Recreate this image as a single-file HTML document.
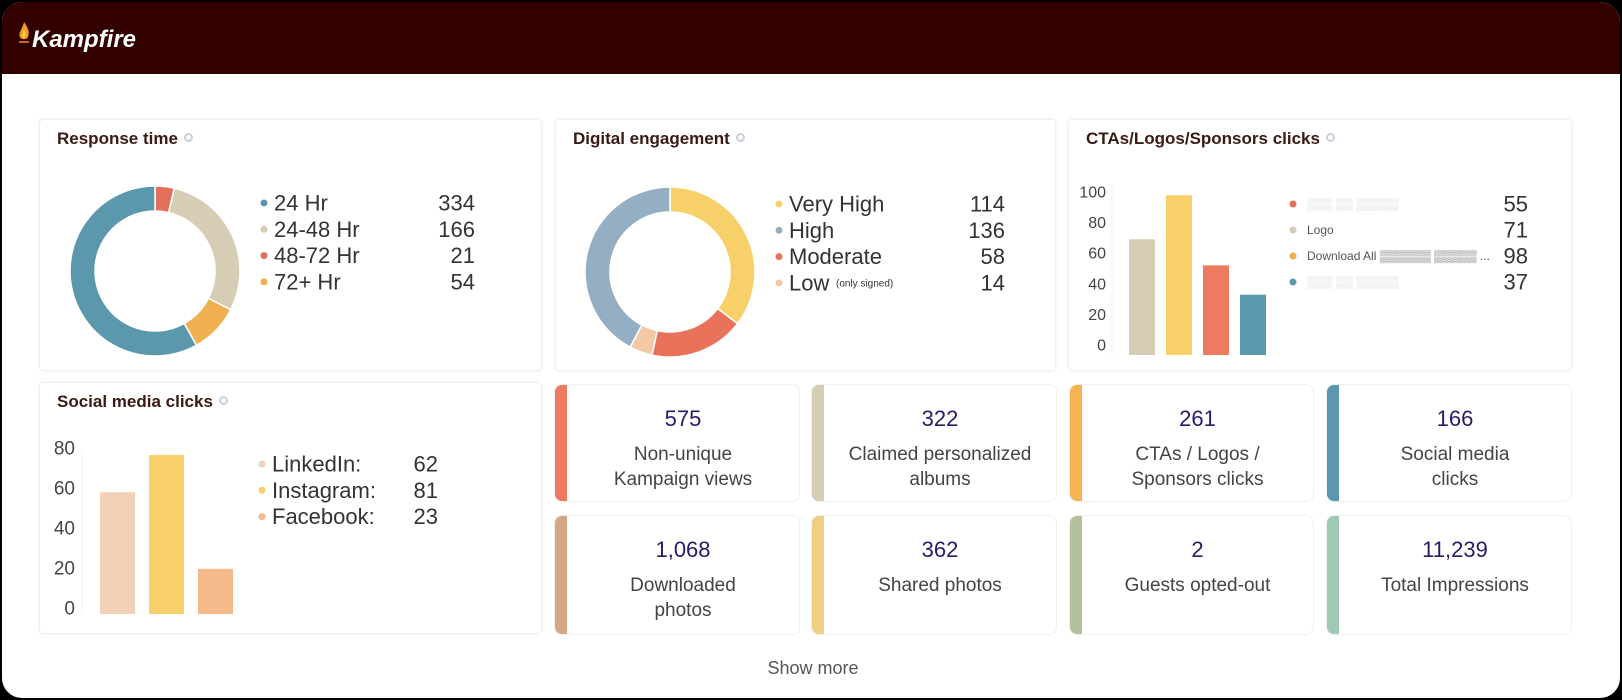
<!DOCTYPE html>
<html><head><meta charset="utf-8">
<style>
*{box-sizing:border-box;margin:0;padding:0}
html,body{width:1622px;height:700px;background:#000;overflow:hidden;font-family:"Liberation Sans",sans-serif}
#frame{position:absolute;left:0;top:0;width:1622px;height:700px;background:#fff;border:2px solid #000;border-radius:22px;overflow:hidden}
#header{position:absolute;left:0;top:0;width:1622px;height:72px;background:#330000}
#logo{position:absolute;left:30px;top:24px;color:#fff;font:italic bold 24px "Liberation Sans",sans-serif}
.card{position:absolute;background:#fff;border:1px solid #efefef;border-radius:4px;box-shadow:0 0 4px rgba(0,0,0,0.05)}
.title{position:absolute;left:17px;top:9px;font:bold 17px "Liberation Sans",sans-serif;color:#3a1a12}
.info{display:inline-block;width:9px;height:9px;border-radius:50%;border:2px solid #c7d0dc;margin-left:6px;vertical-align:2px}
.tile{position:absolute;background:#fff;border:1px solid #f0f0f0;border-radius:8px;overflow:hidden;text-align:center}
.tile .bar{position:absolute;left:0;top:0;bottom:0;width:12px}
.tile .num{position:absolute;left:12px;right:0;top:21px;font-size:22px;color:#2b1a66}
.tile .lbl{position:absolute;left:12px;right:0;top:57px;font-size:19px;line-height:25px;color:#444}
svg text{font-family:"Liberation Sans",sans-serif}
#more{position:absolute;left:0;width:1622px;top:656px;text-align:center;font-size:18px;color:#555}
</style></head><body>
<div id="frame">
<div id="header">
  <svg style="position:absolute;left:14px;top:18px" width="16" height="26"><path d="M8 2 C12 8 14 12 12 17 C11 20 5 20 4 17 C2 13 6 10 8 2Z" fill="#f39c1f"/><path d="M8 9 C10 12 10 15 9 17 C8 18 7 18 6.5 17 C6 15 7 12 8 9Z" fill="#ffd34d"/><rect x="3" y="21" width="10" height="2" fill="#c8692a"/></svg>
  <div id="logo">Kampfire</div>
</div>

<div class="card" style="left:37px;top:117px;width:503px;height:252px">
  <div class="title">Response time<span class="info"></span></div>
</div>
<div class="card" style="left:553px;top:117px;width:501px;height:252px">
  <div class="title">Digital engagement<span class="info"></span></div>
</div>
<div class="card" style="left:1066px;top:117px;width:504px;height:252px">
  <div class="title">CTAs/Logos/Sponsors clicks<span class="info"></span></div>
</div>
<div class="card" style="left:37px;top:380px;width:503px;height:252px">
  <div class="title">Social media clicks<span class="info"></span></div>
</div>

<div class="tile" style="left:552px;top:382px;width:246px;height:118px"><div class="bar" style="background:#ee7a5f"></div><div class="num">575</div><div class="lbl">Non-unique<br>Kampaign views</div></div>
<div class="tile" style="left:809px;top:382px;width:246px;height:118px"><div class="bar" style="background:#d6cdb4"></div><div class="num">322</div><div class="lbl">Claimed personalized<br>albums</div></div>
<div class="tile" style="left:1067px;top:382px;width:245px;height:118px"><div class="bar" style="background:#f3b451"></div><div class="num">261</div><div class="lbl">CTAs / Logos /<br>Sponsors clicks</div></div>
<div class="tile" style="left:1324px;top:382px;width:246px;height:118px"><div class="bar" style="background:#5b97ad"></div><div class="num">166</div><div class="lbl">Social media<br>clicks</div></div>
<div class="tile" style="left:552px;top:513px;width:246px;height:120px"><div class="bar" style="background:#d3a782"></div><div class="num">1,068</div><div class="lbl">Downloaded<br>photos</div></div>
<div class="tile" style="left:809px;top:513px;width:246px;height:120px"><div class="bar" style="background:#f0cf85"></div><div class="num">362</div><div class="lbl">Shared photos</div></div>
<div class="tile" style="left:1067px;top:513px;width:245px;height:120px"><div class="bar" style="background:#b5c19a"></div><div class="num">2</div><div class="lbl">Guests opted-out</div></div>
<div class="tile" style="left:1324px;top:513px;width:246px;height:120px"><div class="bar" style="background:#9ec9b3"></div><div class="num">11,239</div><div class="lbl">Total Impressions</div></div>

<div id="more">Show more</div>

<svg id="charts" width="1622" height="700" style="position:absolute;left:0;top:0;pointer-events:none"></svg>
</div>
<script>
const rtLabels=["24 Hr","24-48 Hr","48-72 Hr","72+ Hr"];
const rtValues=[334,166,21,54];
const deLabels=["Very High","High","Moderate","Low"];
const deValues=[114,136,58,14];
const ctaLegendValues=[55,71,98,37];
const ctaBarValues=[71,98,55,37];
const ctaTicks=[0,20,40,60,80,100];
const smLabels=["LinkedIn:","Instagram:","Facebook:"];
const smValues=[62,81,23];
const smTicks=[0,20,40,60,80];

const NS="http://www.w3.org/2000/svg";
const svg=document.getElementById('charts');
function mk(tag,attrs,parent){const e=document.createElementNS(NS,tag);for(const k in attrs)e.setAttribute(k,attrs[k]);(parent||svg).appendChild(e);return e;}
function txt(x,y,s,size,fill,anchor){const t=mk('text',{x:x,y:y,'font-size':size,fill:fill,'text-anchor':anchor||'start','dominant-baseline':'central'});t.textContent=s;return t;}
function arcPath(cx,cy,r0,r1,a0,a1){
  const p=(r,a)=>[cx+r*Math.sin(a),cy-r*Math.cos(a)];
  const large=(a1-a0)>Math.PI?1:0;
  const [x1,y1]=p(r1,a0),[x2,y2]=p(r1,a1),[x3,y3]=p(r0,a1),[x4,y4]=p(r0,a0);
  return `M${x1} ${y1}A${r1} ${r1} 0 ${large} 1 ${x2} ${y2}L${x3} ${y3}A${r0} ${r0} 0 ${large} 0 ${x4} ${y4}Z`;
}
function donut(cx,cy,values,order,colors,name){
  const total=values.reduce((a,b)=>a+b,0);let a=0;
  order.forEach(i=>{const da=values[i]/total*2*Math.PI;
    const p=mk('path',{d:arcPath(cx,cy,60,85,a,a+da),fill:colors[i],stroke:'#fff','stroke-width':1.5});
    
    
    a+=da;});
}
function legend(x,vx,y0,labels,values,colors,name,size){
  labels.forEach((l,i)=>{const y=y0+i*26.3;
    const c=mk('circle',{cx:x,cy:y,r:3.5,fill:colors[i]});
    
    
    const t=txt(x+10,y,l,size,'#333');
    
    
    const v=txt(vx,y,String(values[i]),size,'#333','end');
    
    
  });
}
// Response time
const rtColors=["#5b97ad","#d6cdb4","#e0705a","#f0b04f"];
donut(153,269,rtValues,[2,1,3,0],rtColors,'response-time');
legend(262,473,201,rtLabels,rtValues,rtColors,'response-time',22);
// Digital engagement
const deColors=["#f7d06a","#94afc4","#e9735a","#f3c9a5"];
donut(668,270,deValues,[0,2,3,1],deColors,'digital-engagement');
legend(777,1003,202,deLabels,deValues,deColors,'digital-engagement',22);
{const t=txt(834,282,'(only signed)',10,'#333');}
// CTA bar chart
const ctaBarColors=["#d6cdb4","#f7d06a","#ee7a5f","#5b97ad"];
const ctaY=v=>353-v*1.63;
ctaTicks.forEach(v=>{const t=txt(1104,344-v*1.53,String(v),16,'#444','end');});
mk('line',{x1:1110,y1:185,x2:1110,y2:353,stroke:'#f2f2f2'});
ctaBarValues.forEach((v,i)=>{const r=mk('rect',{x:1127+i*37,y:ctaY(v),width:26,height:353-ctaY(v),fill:ctaBarColors[i]});
  });
const ctaLegColors=["#e0705a","#d6cdb4","#f0b04f","#5b97ad"];
const ctaLegText=["▒▒▒ ▒▒ ▒▒▒▒▒","Logo","Download All ▒▒▒▒▒▒ ▒▒▒▒▒ ...","▒▒▒ ▒▒ ▒▒▒▒▒"];
ctaLegendValues.forEach((v,i)=>{const y=202+i*26;
  const c=mk('circle',{cx:1291,cy:y,r:3.5,fill:ctaLegColors[i]});
  const t=txt(1305,y,ctaLegText[i],12,i==0||i==3?'#d8d8d8':'#555');
  const vt=txt(1526,y,String(v),22,'#333','end');});
// Social media
const smColors=["#f3d0b8","#f7d06a","#f5b98a"];
const smY=v=>612-v*1.963;
smTicks.forEach(v=>{const t=txt(73,607-v*2,String(v),19,'#444','end');});
mk('line',{x1:80,y1:450,x2:80,y2:612,stroke:'#f2f2f2'});
smValues.forEach((v,i)=>{const r=mk('rect',{x:98+i*49,y:smY(v),width:35,height:612-smY(v),fill:smColors[i]});
  });
legend(260,436,462,smLabels,smValues,smColors,'social',22);
</script>
</body></html>
